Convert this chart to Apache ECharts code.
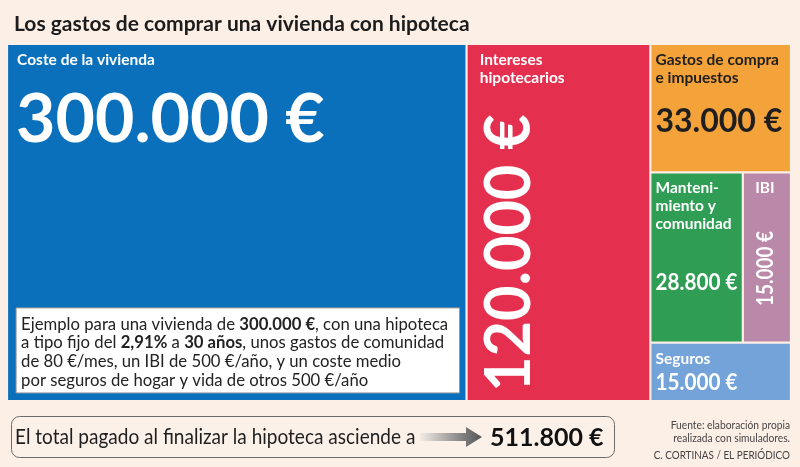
<!DOCTYPE html>
<html>
<head>
<meta charset="utf-8">
<script src="https://cdn.jsdelivr.net/npm/echarts@6/dist/echarts.min.js"></script>
<style>
html,body{margin:0;padding:0;background:#fcefe6;}
#c{width:800px;height:467px;}
</style>
</head>
<body>
<div id="c"></div>
<script>
// ---- data ----
const categories = ['Coste de la vivienda', 'Intereses hipotecarios', 'Gastos de compra e impuestos', 'Mantenimiento y comunidad', 'IBI', 'Seguros'];
const blockTitles = ['Coste de la vivienda', 'Intereses\nhipotecarios', 'Gastos de compra\ne impuestos', 'Manteni-\nmiento y\ncomunidad', 'IBI', 'Seguros'];
const values = [300000, 120000, 33000, 28800, 15000, 15000];
const valueLabels = ['300.000 €', '120.000 €', '33.000 €', '28.800 €', '15.000 €', '15.000 €'];
const totalLabel = '511.800 €';
const titleText = 'Los gastos de comprar una vivienda con hipoteca';
const noteText = 'Ejemplo para una vivienda de {b|300.000 €}, con una hipoteca\na tipo fijo del {b|2,91%} a {b|30 años}, unos gastos de comunidad\nde 80 €/mes, un IBI de 500 €/año, y un coste medio\npor seguros de hogar y vida de otros 500 €/año';
const totalText = 'El total pagado al finalizar la hipoteca asciende a';
const sourceLines = ['Fuente: elaboración propia', 'realizada con simuladores.', 'C. CORTINAS / EL PERIÓDICO'];

// ---- style ----
const colors = ['#0a70bb', '#e4304e', '#f4a23a', '#2f9e54', '#ba88a9', '#74a3da'];
const titleColors = ['#fff', '#fff', '#1e1e1e', '#fff', '#fff', '#fff'];
const titleOffsets = [9, 12, 4, 4, 0, 4];
const FONT = 'Lato, "Noto Sans", sans-serif';

// ---- layout in data units (slice and dice) ----
const total = values.reduce((a, b) => a + b, 0);
const xa = values[0], xb = values[0] + values[1];
const rest = values[2] + values[3] + values[4] + values[5];
const yA = values[2] / rest, yB = (values[2] + values[3] + values[4]) / rest;
const xm = xb + (total - xb) * values[3] / (values[3] + values[4]);
const cells = [
  [0, xa, 0, 1, 0],
  [xa, xb, 0, 1, 1],
  [xb, total, 0, yA, 2],
  [xb, xm, yA, yB, 3],
  [xm, total, yA, yB, 4],
  [xb, total, yB, 1, 5]
];

function renderItem(params, api) {
  const i = api.value(4);
  const p0 = api.coord([api.value(0), api.value(2)]);
  const p1 = api.coord([api.value(1), api.value(3)]);
  const g = 1.1;
  const rx = Math.min(p0[0], p1[0]) + g, ry = Math.min(p0[1], p1[1]) + g;
  const w = Math.abs(p1[0] - p0[0]) - 2 * g, h = Math.abs(p1[1] - p0[1]) - 2 * g;
  const ch = [{ type: 'rect', shape: { x: rx, y: ry, width: w, height: h }, style: { fill: colors[i] } }];
  const tc = titleColors[i];
  const tf = 'bold 15.5px ' + FONT;
  if (i === 4) {
    ch.push({ type: 'text', x: rx + w / 2 - 2, y: ry + 6, style: { text: blockTitles[i], fill: tc, font: tf, lineHeight: 18, align: 'center', verticalAlign: 'top' } });
  } else {
    ch.push({ type: 'text', x: rx + titleOffsets[i], y: ry + 6, style: { text: blockTitles[i], fill: tc, font: tf, lineHeight: 18, align: 'left', verticalAlign: 'top' } });
  }
  const ox = rx + titleOffsets[i];
  if (i === 0) {
    ch.push({ type: 'text', x: rx + 8, y: ry + 76, scaleX: 1.03, style: { text: valueLabels[i], fill: tc, font: 'bold 66px ' + FONT, align: 'left', verticalAlign: 'middle' } });
    ch.push({ type: 'rect', shape: { x: rx + 8, y: ry + h - 92, width: w - 14, height: 85 }, style: { fill: '#fff', stroke: '#9a9a9a', lineWidth: 1 } });
    ch.push({ type: 'text', x: rx + 13, y: ry + h - 85, style: { text: noteText, fill: '#222', font: '16.7px ' + FONT, lineHeight: 18.8, align: 'left', verticalAlign: 'top', rich: { b: { font: 'bold 16.7px ' + FONT, fill: '#222', lineHeight: 18.8 } } } });
  } else if (i === 1) {
    ch.push({ type: 'text', x: rx + 42, y: ry + h - 8, rotation: Math.PI / 2, scaleX: 0.955, style: { text: valueLabels[i], fill: tc, font: 'bold 64px ' + FONT, align: 'left', verticalAlign: 'middle' } });
  } else if (i === 2) {
    ch.push({ type: 'text', x: ox, y: ry + 77, style: { text: valueLabels[i], fill: tc, font: 'bold 32px ' + FONT, align: 'left', verticalAlign: 'middle' } });
  } else if (i === 3) {
    ch.push({ type: 'text', x: ox, y: ry + 109, scaleX: 0.9, style: { text: valueLabels[i], fill: tc, font: 'bold 23px ' + FONT, align: 'left', verticalAlign: 'middle' } });
  } else if (i === 4) {
    ch.push({ type: 'text', x: rx + w / 2 - 1, y: ry + 95, rotation: Math.PI / 2, scaleX: 0.86, style: { text: valueLabels[i], fill: tc, font: 'bold 22px ' + FONT, align: 'center', verticalAlign: 'middle' } });
  } else if (i === 5) {
    ch.push({ type: 'text', x: ox, y: ry + 39, scaleX: 0.9, style: { text: valueLabels[i], fill: tc, font: 'bold 23px ' + FONT, align: 'left', verticalAlign: 'middle' } });
  }
  return { type: 'group', children: ch };
}

const chart = echarts.init(document.getElementById('c'), null, { renderer: 'canvas' });
chart.setOption({
  backgroundColor: '#fcefe6',
  animation: false,
  title: { text: titleText, left: 9, top: 9, textStyle: { fontFamily: FONT, fontSize: 21, fontWeight: 'bold', color: '#1c1c1c' } },
  grid: { left: 7, right: 9, top: 44, bottom: 66 },
  xAxis: { type: 'value', min: 0, max: total, show: false },
  yAxis: { type: 'value', min: 0, max: 1, inverse: true, show: false },
  series: [{
    type: 'custom',
    name: 'Gastos',
    renderItem: renderItem,
    encode: { x: [0, 1], y: [2, 3] },
    data: cells.map((c, k) => ({ name: categories[k], value: c }))
  }],
  graphic: [
    { type: 'rect', shape: { x: 11.5, y: 416.5, width: 603, height: 41, r: 8 }, style: { fill: 'rgba(255,255,255,0.15)', stroke: '#6b6b6b', lineWidth: 1 } },
    { type: 'text', x: 15, y: 437, scaleX: 0.865, style: { text: totalText, fill: '#1e1e1e', font: '22px ' + FONT, verticalAlign: 'middle' } },
    { type: 'polygon', shape: { points: [[420, 433], [466, 433], [466, 427], [482, 437], [466, 447], [466, 441], [420, 441]] },
      style: { fill: new echarts.graphic.LinearGradient(0, 0, 1, 0, [{ offset: 0, color: '#f3ebe6' }, { offset: 0.75, color: '#777' }, { offset: 1, color: '#555' }]) } },
    { type: 'text', x: 490, y: 438, style: { text: totalLabel, fill: '#111', font: 'bold 25px ' + FONT, verticalAlign: 'middle' } },
    { type: 'text', x: 790, y: 425, scaleX: 0.93, style: { text: sourceLines[0], fill: '#444', font: '11px ' + FONT, align: 'right', verticalAlign: 'middle' } },
    { type: 'text', x: 790, y: 438, scaleX: 0.93, style: { text: sourceLines[1], fill: '#444', font: '11px ' + FONT, align: 'right', verticalAlign: 'middle' } },
    { type: 'text', x: 790, y: 455, scaleX: 0.9, style: { text: sourceLines[2], fill: '#444', font: '11px ' + FONT, align: 'right', verticalAlign: 'middle' } }
  ]
});
</script>
</body>
</html>
